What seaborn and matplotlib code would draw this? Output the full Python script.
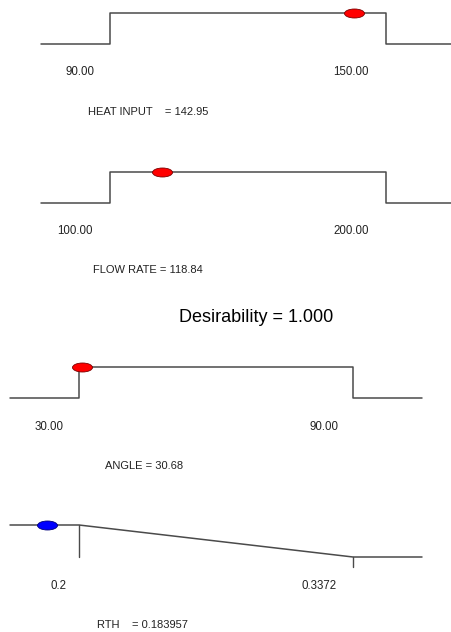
import numpy as np
import matplotlib
matplotlib.use("Agg")
import matplotlib.pyplot as plt
import seaborn as sns
from matplotlib.path import Path

# ---- data ----
factors = ["HEAT INPUT    ", "FLOW RATE ", "ANGLE ", "RTH    "]
low = [90.0, 100.0, 30.0, 0.2]
high = [150.0, 200.0, 90.0, 0.3372]
low_labels = ["90.00", "100.00", "30.00", "0.2"]
high_labels = ["150.00", "200.00", "90.00", "0.3372"]
optimum = [142.95, 118.84, 30.68, 0.183957]
optimum_labels = ["142.95", "118.84", "30.68", "0.183957"]
goals = ["range", "range", "range", "minimize"]
marker_colors = ["#ff0000", "#ff0000", "#ff0000", "#0000ff"]
marker_edges = ["#7a0000", "#7a0000", "#7a0000", "#00007a"]
desirability = 1.000

# ---- layout (pixels of the 451x632 canvas) ----
W, H = 451, 632
px_low = [110, 110, 79, 79]
px_high = [386, 386, 353, 353]
px_start = [41, 41, 10, 10]
px_end = [451, 451, 422, 422]
row_hi = [13, 172, 367, 525]
row_lo = [44, 203, 398, 557]
label_row = [72, 231, 427, 586]
low_label_x = [80, 75, 49, 58]
high_label_x = [351, 351, 324, 319]
name_row = [112, 270, 466, 625]
name_x = [88, 93, 105, 97]

sns.set_style("white")
plt.rcParams["font.family"] = ["Liberation Sans", "DejaVu Sans"]

fig = plt.figure(figsize=(W / 100, H / 100), dpi=100)
fig.patch.set_facecolor("white")

ellipse = Path(Path.unit_circle().vertices * np.array([1.0, 0.45]), Path.unit_circle().codes)
line_color = "#4a4a4a"
text_color = "#222222"

for i in range(4):
    ax = fig.add_axes([0, 0, 1, 1])
    ax.set_axis_off()
    ax.patch.set_alpha(0)
    s = (high[i] - low[i]) / (px_high[i] - px_low[i])
    ax.set_xlim(low[i] - px_low[i] * s, low[i] + (W - px_low[i]) * s)
    hpx = row_lo[i] - row_hi[i]
    ax.set_ylim((row_lo[i] - H) / hpx, row_lo[i] / hpx)

    def xd(p):
        return low[i] + (p - px_low[i]) * s

    def yd(p):
        return (row_lo[i] - p) / hpx

    x0, x1 = xd(px_start[i]), xd(px_end[i])
    if goals[i] == "range":
        xs = [x0, low[i], low[i], high[i], high[i], x1]
        ds = [0, 0, 1, 1, 0, 0]
        d_opt = 1.0 if low[i] <= optimum[i] <= high[i] else 0.0
    else:
        xs = [x0, low[i], high[i], x1]
        ds = [1, 1, 0, 0]
        d_opt = float(np.clip((high[i] - optimum[i]) / (high[i] - low[i]), 0, 1))
        sns.lineplot(x=[low[i], low[i]], y=[1, 0], sort=False, estimator=None,
                     color=line_color, linewidth=1.0, ax=ax)
        sns.lineplot(x=[high[i], high[i]], y=[0, -0.3], sort=False, estimator=None,
                     color=line_color, linewidth=1.0, ax=ax)
    sns.lineplot(x=xs, y=ds, sort=False, estimator=None, color=line_color,
                 linewidth=1.1, ax=ax)
    sns.scatterplot(x=[optimum[i]], y=[d_opt], marker=ellipse, s=(20 * 0.72) ** 2,
                    color=marker_colors[i], edgecolor=marker_edges[i], linewidth=0.6,
                    zorder=5, ax=ax, legend=False)

    ax.text(xd(low_label_x[i]), yd(label_row[i]), low_labels[i], ha="center",
            va="center", fontsize=8.3, color=text_color)
    ax.text(xd(high_label_x[i]), yd(label_row[i]), high_labels[i], ha="center",
            va="center", fontsize=8.3, color=text_color)
    ax.text(xd(name_x[i]), yd(name_row[i]), f"{factors[i]}= {optimum_labels[i]}",
            ha="left", va="center", fontsize=8, color=text_color)

fig.text(256 / W, 1 - 317 / H, f"Desirability = {desirability:.3f}", ha="center",
         va="center", fontsize=13, color="black")

fig.savefig("out.png", dpi=100, facecolor="white")
